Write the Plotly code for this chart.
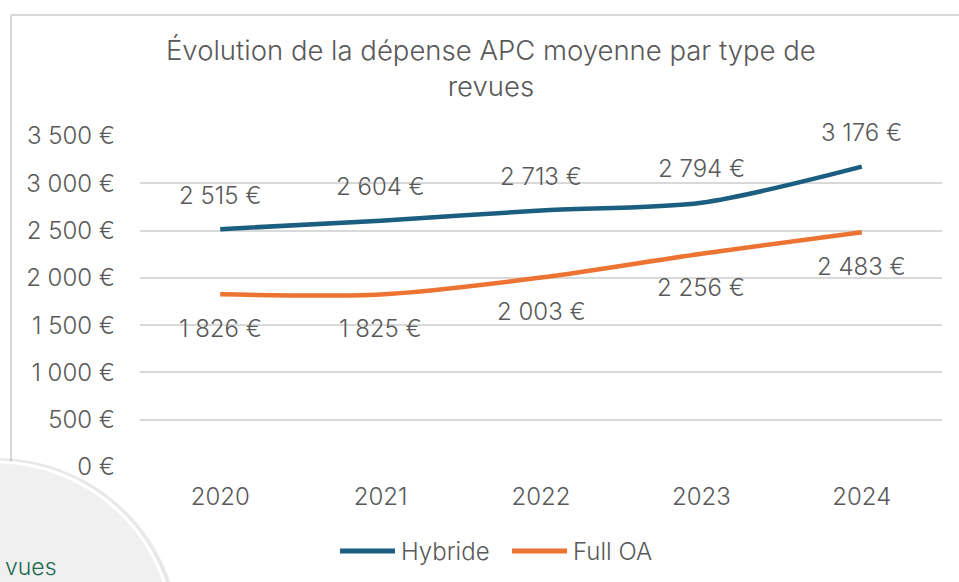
import plotly.graph_objects as go

years = ["2020", "2021", "2022", "2023", "2024"]
hybride = [2515, 2604, 2713, 2794, 3176]
full_oa = [1826, 1825, 2003, 2256, 2483]
series_names = ["Hybride", "Full OA"]
y_ticks = [0, 500, 1000, 1500, 2000, 2500, 3000, 3500]
y_ticktext = ["0 €", "500 €", "1 000 €", "1 500 €", "2 000 €", "2 500 €", "3 000 €", "3 500 €"]
title_text = "Évolution de la dépense APC moyenne par type de<br>revues"

W, H = 959, 582
def px(x):
    return x / W
def py(y):
    return 1 - y / H

def fmt(v):
    s = f"{v:,}".replace(",", " ")
    return s + " €"

FONT = "Inter"
GREY = "#595959"
BLUE = "#1b5e80"
ORANGE = "#ec7331"
TF = dict(family=FONT, size=24, color=GREY, weight=300)

fig = go.Figure()
fig.add_trace(go.Scatter(x=years, y=hybride, name=series_names[0], mode="lines",
                         line=dict(color=BLUE, width=4.5, shape="spline", smoothing=0.8)))
fig.add_trace(go.Scatter(x=years, y=full_oa, name=series_names[1], mode="lines",
                         line=dict(color=ORANGE, width=4.5, shape="spline", smoothing=0.8)))

annotations = []
for i, v in enumerate(hybride):
    annotations.append(dict(x=i, y=v, xref="x", yref="y", text=fmt(v), showarrow=False,
                            yshift=34, font=TF))
for i, v in enumerate(full_oa):
    annotations.append(dict(x=i, y=v, xref="x", yref="y", text=fmt(v), showarrow=False,
                            yshift=-34, font=TF))
annotations.append(dict(x=px(491), y=py(68), xref="paper", yref="paper", text=title_text,
                        showarrow=False, xanchor="center", yanchor="middle",
                        font=dict(family=FONT, size=27.5, color=GREY, weight=300)))
annotations.append(dict(x=px(3), y=py(567), xref="paper", yref="paper", text="vues",
                        showarrow=False, xanchor="left", yanchor="middle",
                        font=dict(family=FONT, size=23, color="#1e6a4f")))
# custom legend
leg = [(340, 395, 399, BLUE, series_names[0]), (512, 567, 571, ORANGE, series_names[1])]

shapes = [
    dict(type="line", xref="paper", yref="paper", x0=px(11), x1=px(970), y0=py(15), y1=py(15),
         line=dict(color="#d9d9d9", width=2)),
    dict(type="line", xref="paper", yref="paper", x0=px(11), x1=px(11), y0=py(15), y1=py(470),
         line=dict(color="#d9d9d9", width=2)),
    dict(type="circle", xref="paper", yref="paper", layer="above",
         x0=px(-4 - 183), x1=px(-3 + 183), y0=py(641 + 183), y1=py(641 - 183),
         fillcolor="rgba(0,0,0,0.09)", line=dict(width=0)),
    dict(type="circle", xref="paper", yref="paper", layer="above",
         x0=px(-4 - 178), x1=px(-4 + 178), y0=py(640 + 178), y1=py(640 - 178),
         fillcolor="#f0f0f0", line=dict(color="white", width=3)),
]
for x0, x1, xt, col, name in leg:
    shapes.append(dict(type="line", xref="paper", yref="paper", x0=px(x0), x1=px(x1),
                       y0=py(551), y1=py(551), line=dict(color=col, width=5)))
    annotations.append(dict(x=px(xt), y=py(551), xref="paper", yref="paper", text=name,
                            showarrow=False, xanchor="left", yanchor="middle", font=TF))

fig.update_layout(
    width=W, height=H,
    margin=dict(l=0, r=0, t=0, b=0),
    paper_bgcolor="white", plot_bgcolor="white",
    font=TF,
    showlegend=False,
    xaxis=dict(domain=[px(140), px(942)], range=[-0.5, 4.5], type="category",
               showgrid=False, zeroline=False, showline=False, ticks="",
               ticklabelstandoff=13, automargin=False, tickfont=TF),
    yaxis=dict(domain=[py(467), py(136)], range=[0, 3500], tickvals=y_ticks, ticktext=y_ticktext,
               showgrid=True, gridcolor="#d9d9d9", gridwidth=1.5, zeroline=False,
               showline=False, ticks="", ticklabelstandoff=24, automargin=False, tickfont=TF),
    annotations=annotations,
    shapes=shapes,
)

fig.write_html("out.html", config={"displayModeBar": False},
               post_script="document.body.style.margin='0';document.body.style.overflow='hidden';")
